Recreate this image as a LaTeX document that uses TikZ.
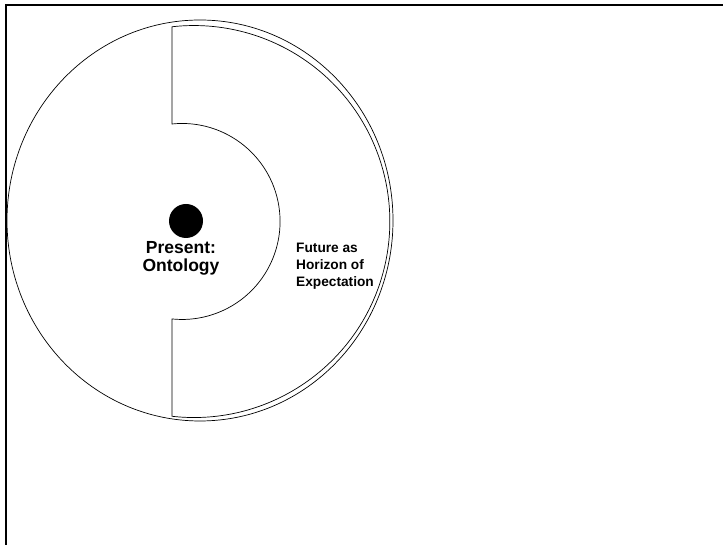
\documentclass[tikz,border=0pt]{standalone}
\usepackage{fontspec}
\setmainfont{Liberation Sans}
\usetikzlibrary{positioning}

\begin{document}
\begin{tikzpicture}[x=1pt, y=1pt,
    frameline/.style={line width=2pt},
    ring/.style={line width=0.7pt},
    dot/.style={circle, fill=black, minimum size=34pt, inner sep=0pt},
    biglabel/.style={font=\bfseries\fontsize{17.5}{18}\selectfont, align=center, inner sep=0pt},
    smalllabel/.style={font=\bfseries\fontsize{13.7}{17}\selectfont, align=left, inner sep=0pt}
]
\useasboundingbox (0,0) rectangle (723,545);
% frame (top and left edges only)
\draw[frameline] (723,540) -- (6,540) -- (6,0);
% outer circle
\draw[ring] (200,324.5) ellipse [x radius=193, y radius=200.5];
% horizon band
\draw[ring] (172,518.3) -- (172,421)
    arc[start angle=95.9, end angle=-95.9, radius=98] -- (172,128.7)
    arc[start angle=-96.4, end angle=96.4, radius=196] -- cycle;
% present
\node[dot] (present) at (186,324) {};
\node[biglabel, anchor=base] (ontology) at (181,273) {Present:\\Ontology};
\node[smalllabel, anchor=base west] (future) at (296,258) {Future as\\Horizon of\\Expectation};
\end{tikzpicture}
\end{document}
